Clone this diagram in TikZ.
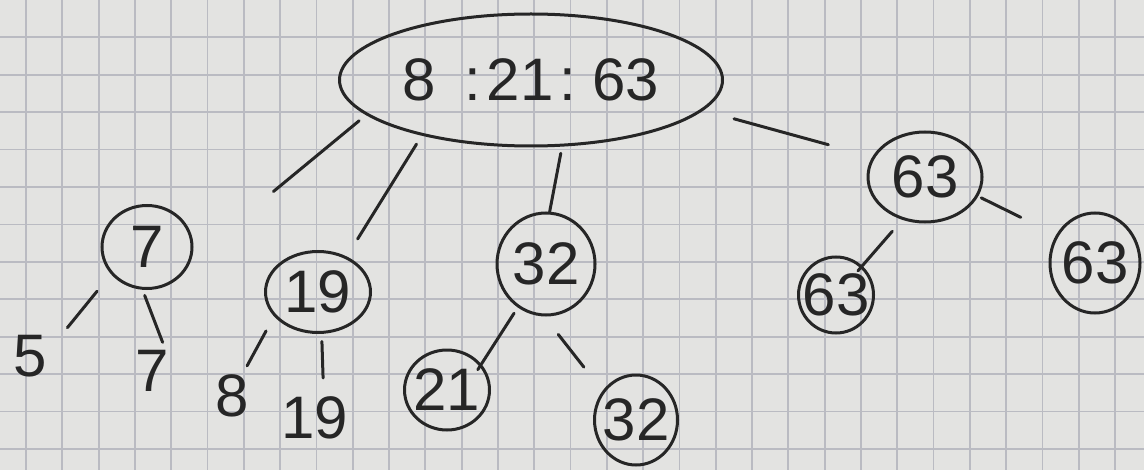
\documentclass[tikz,border=0pt]{standalone}
\usepackage{fontspec}
\setmainfont{Liberation Sans}
\usetikzlibrary{shapes.geometric}
\definecolor{paper}{HTML}{E3E3E1}
\definecolor{gridline}{HTML}{BABBC2}
\definecolor{ink}{HTML}{262626}

\begin{document}
\begin{tikzpicture}[
    x=0.5pt, y=-0.5pt,
    font=\fontsize{30}{34}\selectfont,
    knot/.style={draw=ink, ellipse, line width=1.5pt, inner sep=-4pt, text=ink},
    num/.style={inner sep=1pt, text=ink},
    link/.style={draw=ink, line width=1.5pt, line cap=round}
  ]
    % Squared paper
    \fill[paper] (0,0) rectangle (1144,470);
    \useasboundingbox (0,0) rectangle (1144,470);
    \foreach \i in {0,...,30}
      \draw[gridline, line width=0.9pt] ({26+36.3*\i},0) -- ({26+36.3*\i},470);
    \foreach \j in {1,...,12}
      \draw[gridline, line width=0.9pt] (0,{37.4*\j}) -- (1144,{37.4*\j});

    % Root with three keys
    \node[knot, inner sep=-6pt, minimum width=191.5pt, minimum height=66pt] (root) at (531,80)
      {8\hspace{14pt}:\hspace{3pt}21\hspace{3pt}:\hspace{8pt}63};

    % Second level
    \node[knot, minimum width=45pt, minimum height=41.5pt] (n7) at (147,247) {7};
    \node[knot, minimum width=52.5pt, minimum height=40.5pt] (n19) at (318,292) {19};
    \node[knot, minimum width=49pt, minimum height=51pt] (n32) at (546,264) {32};
    \node[knot, minimum width=57pt, minimum height=45pt] (n63) at (925,177) {63};

    % Leaves
    \node[num] (l5) at (30,356) {5};
    \node[num] (l7) at (152,371) {7};
    \node[num] (l8) at (232,396) {8};
    \node[num] (l19) at (315,418) {19};
    \node[knot, minimum width=42.5pt, minimum height=40pt] (l21) at (447,390) {21};
    \node[knot, minimum width=41.5pt, minimum height=45pt] (r32) at (636,420) {32};
    \node[knot, minimum width=37.5pt, minimum height=38pt] (l63) at (836,295) {63};
    \node[knot, minimum width=45pt, minimum height=50pt] (r63) at (1095,263) {63};

    % Strokes
    \draw[link, shorten <=4.5pt, shorten >=53pt] (root.192) -- (n7.345);
    \draw[link, shorten <=5pt, shorten >=10.3pt] (root.207) -- (n19.51);
    \draw[link, shorten <=3.4pt, shorten >=0pt] (root.295) -- (n32.86);
    \draw[link, shorten <=15.9pt, shorten >=22.8pt] (root.350) -- (n63.159);
    \draw[link, shorten <=11pt, shorten >=14.5pt] (n7.217) -- (l5.17);
    \draw[link, shorten <=3pt, shorten >=3pt] (n7.264) -- (l7.61);
    \draw[link, shorten <=8.3pt, shorten >=3.7pt] (n19.209) -- (l8.64);
    \draw[link, shorten <=3.8pt, shorten >=8.2pt] (n19.275) -- (l19.70);
    \draw[link, shorten <=3.4pt, shorten >=-3.3pt] (n32.237) -- (l21.37);
    \draw[link, shorten <=11.4pt, shorten >=15.1pt] (n32.268) -- (r32.139);
    \draw[link, shorten <=7.6pt, shorten >=-3.3pt] (n63.242) -- (l63.48);
    \draw[link, shorten <=1.7pt, shorten >=19.7pt] (n63.340) -- (r63.144);
\end{tikzpicture}
\end{document}
